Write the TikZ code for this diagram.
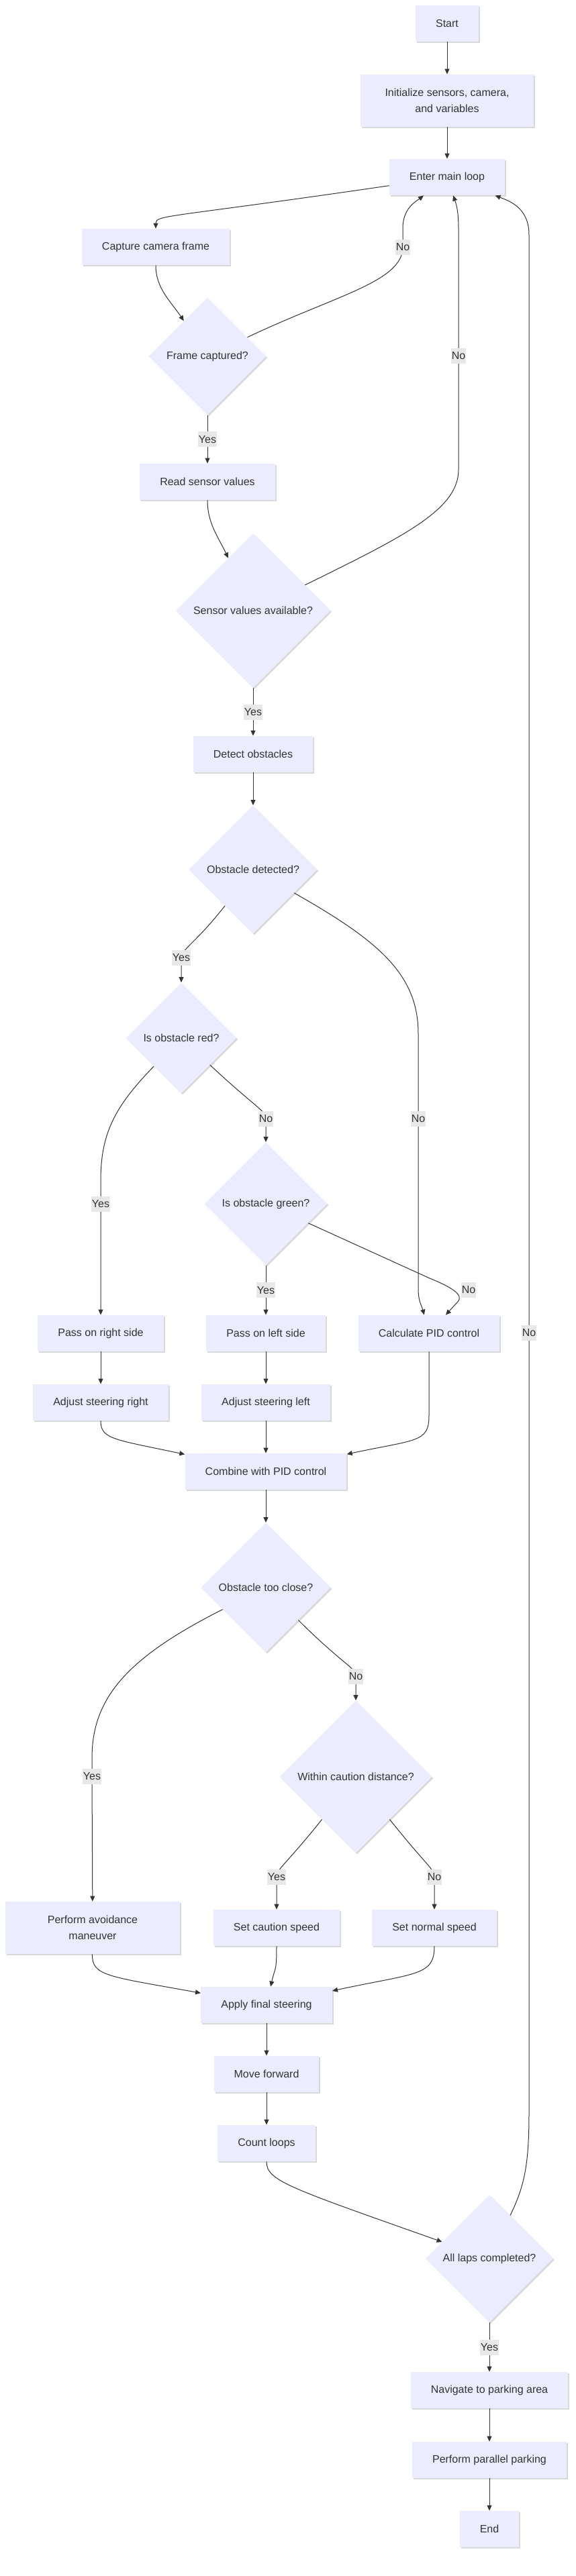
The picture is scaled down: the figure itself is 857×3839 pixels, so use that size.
\documentclass[tikz,border=0pt]{standalone}
\usepackage{fontspec}
\setmainfont{Liberation Sans}
\usetikzlibrary{shapes.geometric,arrows.meta,shadows}
\definecolor{boxfill}{HTML}{ECECFF}
\definecolor{inkgray}{HTML}{333333}
\definecolor{lblfill}{HTML}{E8E8E8}

\begin{document}
\begin{tikzpicture}[x=0.5pt,y=-0.5pt,
  every node/.style={font=\fontsize{8}{12}\selectfont, text=inkgray},
  proc/.style={fill=boxfill, inner xsep=15pt, inner ysep=4pt, minimum height=27pt, align=center,
    drop shadow={shadow xshift=1pt, shadow yshift=-1pt, opacity=0.15, fill=black}},
  decide/.style={diamond, aspect=1, fill=boxfill, inner sep=0pt, minimum size=#1,
    drop shadow={shadow xshift=1pt, shadow yshift=-1pt, opacity=0.15, fill=black}},
  lbl/.style={fill=lblfill, inner xsep=0.5pt, inner ysep=0pt, minimum height=11.5pt},
  link/.style={draw=inkgray, line width=0.5pt, -{Triangle[length=4pt,width=3.5pt]}}]
\useasboundingbox (0,0) rectangle (857,3839);

\node[proc] (start) at (666,35) {Start};
\node[proc, minimum width=129pt, minimum height=39pt] (init) at (666,150) {Initialize sensors, camera,\\and variables};
\node[proc] (enter) at (666,264) {Enter main loop};
\node[proc] (capture) at (232,368) {Capture camera frame};
\node[decide=87.5pt] (frame) at (309,531) {Frame captured?};
\node[proc] (read) at (309,718) {Read sensor values};
\node[decide=115pt] (sensor) at (377,910) {Sensor values available?};
\node[proc] (detect) at (377,1124) {Detect obstacles};
\node[decide=95.5pt] (obsdet) at (377,1296) {Obstacle detected?};
\node[decide=82.5pt] (red) at (270,1547) {Is obstacle red?};
\node[decide=91.5pt] (green) at (396,1794) {Is obstacle green?};
\node[proc] (passr) at (150,1987) {Pass on right side};
\node[proc] (passl) at (396,1987) {Pass on left side};
\node[proc] (calc) at (639,1987) {Calculate PID control};
\node[proc] (adjr) at (150,2090) {Adjust steering right};
\node[proc] (adjl) at (396,2090) {Adjust steering left};
\node[proc] (combine) at (396,2193) {Combine with PID control};
\node[decide=96.5pt] (tooclose) at (396,2366) {Obstacle too close?};
\node[decide=113.5pt] (within) at (530,2648) {Within caution distance?};
\node[proc, minimum width=130pt, minimum height=39pt] (avoid) at (138,2873) {Perform avoidance\\maneuver};
\node[proc] (caution) at (412,2873) {Set caution speed};
\node[proc] (normal) at (647,2873) {Set normal speed};
\node[proc] (apply) at (397,2988) {Apply final steering};
\node[proc] (move) at (397,3091) {Move forward};
\node[proc] (count) at (397,3194) {Count loops};
\node[decide=95pt] (laps) at (729,3366) {All laps completed?};
\node[proc] (navigate) at (729,3562) {Navigate to parking area};
\node[proc] (park) at (729,3666) {Perform parallel parking};
\node[proc] (finish) at (729,3769) {End};

\foreach \a/\b in {start/init,init/enter,detect/obsdet,passr/adjr,passl/adjl,adjl/combine,
  combine/tooclose,apply/move,move/count,navigate/park,park/finish}
  \draw[link] (\a) -- (\b);
\foreach \a/\b in {frame/read,sensor/detect,green/passl,laps/navigate}
  \draw[link] (\a) -- node[lbl] {Yes} (\b);

\draw[link] (enter) .. controls (250,325) and (232,320) .. (capture);
\draw[link] (capture) .. controls (232,430) and (255,450) .. (frame);
\draw[link] (frame) .. controls (500,440) and (600,420) .. (600,368) node[lbl] {No}
  -- (600,340) .. controls (600,310) and (620,300) .. (enter);
\draw[link] (read) .. controls (309,780) and (325,800) .. (sensor);
\draw[link] (sensor) .. controls (600,800) and (683,760) .. (683,700) -- (683,530) node[lbl] {No}
  -- (683,340) .. controls (683,310) and (678,300) .. (enter);
\draw[link] (obsdet) .. controls (292,1405) and (270,1415) .. (270,1427) node[lbl] {Yes} -- (red);
\draw[link] (obsdet) .. controls (560,1400) and (623,1450) .. (623,1540) -- (623,1667) node[lbl] {No}
  -- (623,1920) .. controls (623,1940) and (628,1945) .. (calc);
\draw[link] (red) .. controls (170,1650) and (150,1690) .. (150,1760) -- (150,1794) node[lbl] {Yes} -- (passr);
\draw[link] (red) .. controls (380,1650) and (396,1655) .. (396,1667) node[lbl] {No} -- (green);
\draw[link] (green) -- (640,1905) .. controls (690,1925) and (688,1935) .. (680,1942) -- (calc)
  node[lbl] at (698,1922) {No};
\draw[link] (adjr) .. controls (150,2145) and (170,2145) .. (combine);
\draw[link] (calc) -- (639,2110) .. controls (639,2150) and (620,2145) .. (combine);
\draw[link] (tooclose) .. controls (190,2470) and (137,2530) .. (137,2620) -- (137,2647) node[lbl] {Yes} -- (avoid);
\draw[link] (tooclose) .. controls (510,2480) and (530,2485) .. (530,2498) node[lbl] {No} -- (within);
\draw[link] (within) .. controls (425,2780) and (412,2785) .. (412,2797) node[lbl] {Yes} -- (caution);
\draw[link] (within) .. controls (635,2780) and (647,2785) .. (647,2797) node[lbl] {No} -- (normal);
\draw[link] (avoid) .. controls (137,2945) and (160,2945) .. (apply);
\draw[link] (caution) .. controls (412,2940) and (410,2930) .. (apply);
\draw[link] (normal) .. controls (647,2945) and (620,2940) .. (apply);
\draw[link] (count) .. controls (397,3250) and (430,3260) .. (laps);
\draw[link] (laps) .. controls (780,3260) and (788,3230) .. (788,3150) -- (788,1986) node[lbl] {No}
  -- (788,350) .. controls (788,310) and (760,300) .. (enter);
\end{tikzpicture}
\end{document}
